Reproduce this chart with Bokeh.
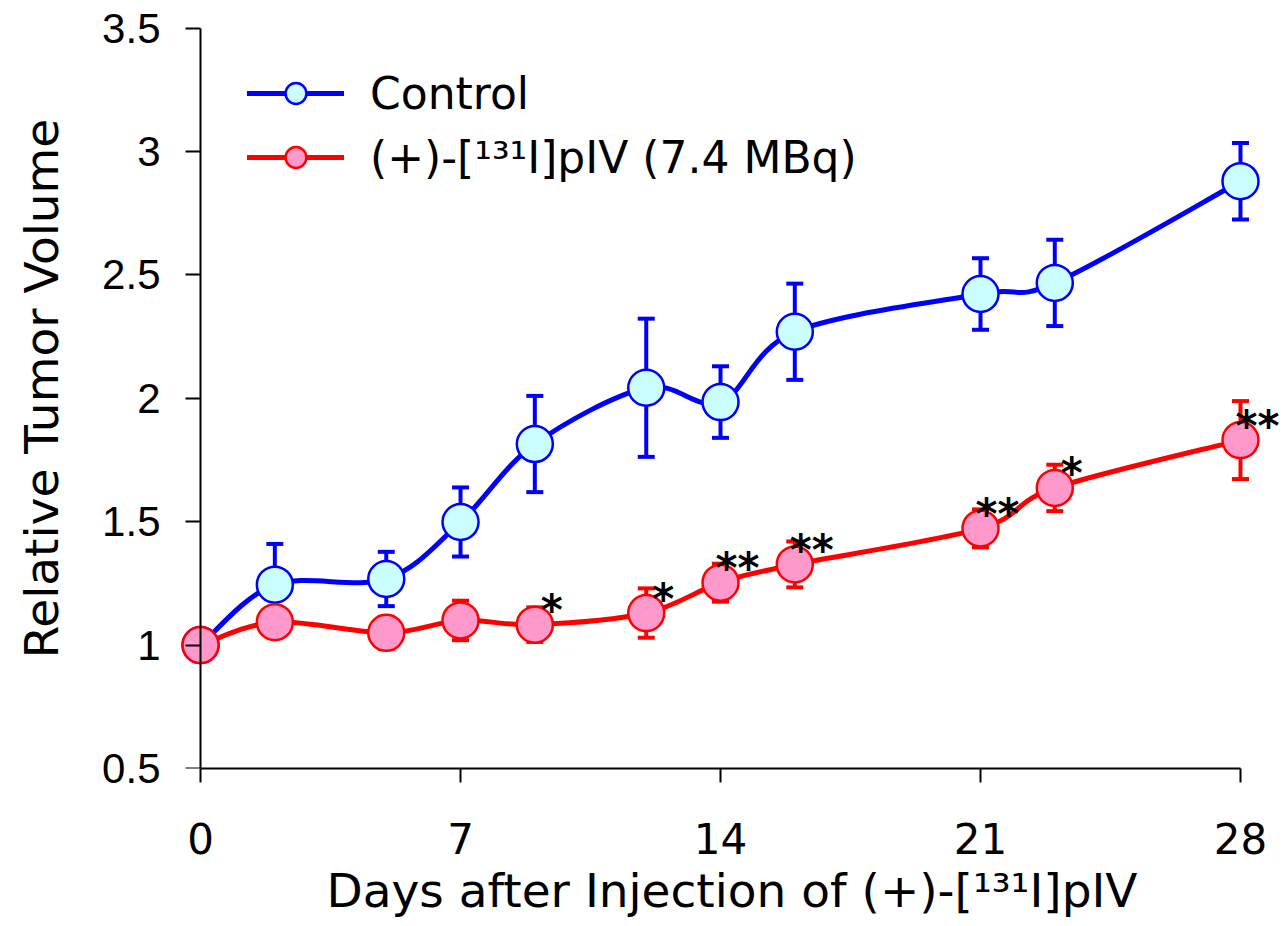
import numpy as np
from bokeh.plotting import figure
from bokeh.models import (Range1d, FixedTicker, Whisker, TeeHead, ColumnDataSource,
                          Legend, LegendItem, LinearAxis)
from bokeh.core.properties import value
from bokeh.embed import file_html
from bokeh.resources import INLINE

# ---------------- data ----------------
days = [0, 2, 5, 7, 9, 12, 14, 16, 21, 23, 28]
control_mean = [1.0, 1.245, 1.268, 1.499, 1.815, 2.043, 1.985, 2.27, 2.423, 2.468, 2.88]
control_sem = [0.0, 0.165, 0.11, 0.14, 0.195, 0.28, 0.145, 0.195, 0.145, 0.175, 0.155]
treated_mean = [1.0, 1.093, 1.05, 1.10, 1.083, 1.13, 1.253, 1.327, 1.473, 1.637, 1.831]
treated_sem = [0.0, 0.05, 0.065, 0.08, 0.07, 0.10, 0.077, 0.093, 0.077, 0.094, 0.158]
significance = ["", "", "", "", "*", "*", "**", "**", "**", "*", "**"]

x_ticks = [0, 7, 14, 21, 28]
y_ticks = [0.5, 1, 1.5, 2, 2.5, 3, 3.5]
y_tick_labels = ["0.5", "1", "1.5", "2", "2.5", "3", "3.5"]

control_label = "Control"
treated_label = "(+)-[\u00b9\u00b3\u00b9I]pIV (7.4 MBq)"
x_title = "Days after Injection of (+)-[\u00b9\u00b3\u00b9I]pIV"
y_title = "Relative Tumor Volume"

BLUE, BLUE_FILL = "#0000FF", "#CCFFFF"
RED, RED_FILL = "#FF0000", "#FF99CC"
COMIC = "DejaVu Sans"


def bezier_parts(xs, ys):
    """Catmull-Rom style smoothing expressed as cubic Bezier control points."""
    x = np.asarray(xs, float)
    y = np.asarray(ys, float)
    n = len(x)
    xp = np.concatenate([[x[0]], x, [x[-1]]])
    yp = np.concatenate([[y[0]], y, [y[-1]]])
    return dict(
        x0=x[:-1], y0=y[:-1], x1=x[1:], y1=y[1:],
        cx0=x[:-1] + (xp[2:n + 1] - xp[0:n - 1]) / 6.0,
        cy0=y[:-1] + (yp[2:n + 1] - yp[0:n - 1]) / 6.0,
        cx1=x[1:] - (xp[3:n + 2] - xp[1:n]) / 6.0,
        cy1=y[1:] - (yp[3:n + 2] - yp[1:n]) / 6.0,
    )


p = figure(width=1283, height=926, output_backend="svg", toolbar_location=None,
           x_range=Range1d(-0.54, 29.158), y_range=Range1d(0.5, 3.58),
           min_border_left=180, min_border_right=0, min_border_top=8,
           min_border_bottom=158)
p.outline_line_color = None
p.grid.visible = False
p.background_fill_color = "white"
p.border_fill_color = "white"

# smoothed lines
ctrl_line = p.bezier(source=ColumnDataSource(bezier_parts(days, control_mean)),
                     x0="x0", y0="y0", x1="x1", y1="y1", cx0="cx0", cy0="cy0",
                     cx1="cx1", cy1="cy1", line_color=BLUE, line_width=5,
                     line_cap="round")
trt_line = p.bezier(source=ColumnDataSource(bezier_parts(days, treated_mean)),
                    x0="x0", y0="y0", x1="x1", y1="y1", cx0="cx0", cy0="cy0",
                    cx1="cx1", cy1="cy1", line_color=RED, line_width=5,
                    line_cap="round")

# error bars
for mean, sem, col in ((control_mean, control_sem, BLUE), (treated_mean, treated_sem, RED)):
    src = ColumnDataSource(dict(
        x=days,
        lower=[m - s for m, s in zip(mean, sem)],
        upper=[m + s for m, s in zip(mean, sem)]))
    w = Whisker(source=src, base="x", lower="lower", upper="upper", dimension="height",
                line_color=col, line_width=4,
                upper_head=TeeHead(size=17, line_color=col, line_width=4),
                lower_head=TeeHead(size=17, line_color=col, line_width=4))
    p.add_layout(w)

ctrl_pts = p.scatter(days, control_mean, size=36, fill_color=BLUE_FILL,
                     line_color=BLUE, line_width=2.5)
trt_pts = p.scatter(days, treated_mean, size=36, fill_color=RED_FILL,
                    line_color=RED, line_width=2.5)

# significance marks
p.text(x=days, y=treated_mean, text=significance, x_offset=17, y_offset=-14,
       text_font=value(COMIC), text_font_size="42px", text_font_style="bold",
       text_color="black", text_align="center", text_baseline="alphabetic")

# x axis
xa = p.xaxis[0]
xa.ticker = FixedTicker(ticks=x_ticks)
xa.bounds = (0, 28)
xa.minor_tick_line_color = None
xa.major_tick_in = 0
xa.major_tick_out = 14
xa.major_tick_line_width = 2
xa.axis_line_width = 2
xa.major_label_text_font = COMIC
xa.major_label_text_font_size = "42px"
xa.major_label_text_color = "black"
xa.major_label_standoff = 40
xa.axis_label = x_title
xa.axis_label_text_font = COMIC
xa.axis_label_text_font_size = "47px"
xa.axis_label_text_font_style = "normal"
xa.axis_label_text_color = "black"
xa.axis_label_standoff = 6

# y axis: labels and title at the frame edge
ya = p.yaxis[0]
ya.ticker = FixedTicker(ticks=y_ticks)
ya.major_label_overrides = {t: l for t, l in zip(y_ticks, y_tick_labels)}
ya.axis_line_color = None
ya.major_tick_line_color = None
ya.minor_tick_line_color = None
ya.major_tick_in = 0
ya.major_tick_out = 0
ya.major_label_text_font = "Liberation Sans"
ya.major_label_text_font_size = "42px"
ya.major_label_text_color = "black"
ya.major_label_standoff = 20
ya.axis_label = y_title
ya.axis_label_text_font = COMIC
ya.axis_label_text_font_size = "47px"
ya.axis_label_text_font_style = "normal"
ya.axis_label_text_color = "black"
ya.axis_label_standoff = 30

# y axis line and ticks placed at day 0
ya_line = LinearAxis(fixed_location=0, bounds=(0.5, 3.5),
                     ticker=FixedTicker(ticks=y_ticks),
                     major_label_overrides={t: "" for t in y_ticks},
                     major_label_standoff=0, major_tick_in=0, major_tick_out=15,
                     major_tick_line_width=2, axis_line_width=2,
                     minor_tick_line_color=None)
p.add_layout(ya_line, "left")

legend = Legend(items=[LegendItem(label=control_label, renderers=[ctrl_line, ctrl_pts]),
                       LegendItem(label=treated_label, renderers=[trt_line, trt_pts])],
                location=(67, 585), orientation="vertical",
                glyph_width=97, glyph_height=52, label_height=52, spacing=12,
                label_standoff=26, padding=0, margin=0,
                border_line_alpha=0, background_fill_alpha=0,
                label_text_font=COMIC, label_text_font_size="44px",
                label_text_color="black")
p.add_layout(legend)

open("out.html", "w").write(file_html(p, INLINE))
